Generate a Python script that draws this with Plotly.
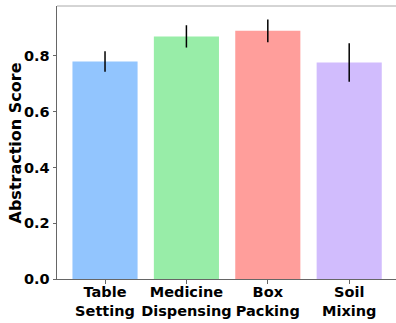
import plotly.graph_objects as go

categories = ["Table<br>Setting", "Medicine<br>Dispensing", "Box<br>Packing", "Soil<br>Mixing"]
scores = [0.780, 0.870, 0.890, 0.776]
errors = [0.037, 0.040, 0.041, 0.069]
colors = ["#92c5fe", "#98eda8", "#ff9e9b", "#d1bcfd"]
y_ticks = [0.0, 0.2, 0.4, 0.6, 0.8]
y_title = "Abstraction Score"

FS = 14.5

fig = go.Figure(go.Bar(
    x=list(range(len(categories))),
    y=scores,
    width=0.8,
    marker=dict(color=colors, line=dict(width=0)),
    error_y=dict(type="data", array=errors, visible=True, color="black", thickness=1.5, width=0),
))

fig.update_layout(
    width=396, height=323,
    margin=dict(l=57, r=0, t=6, b=44),
    plot_bgcolor="white", paper_bgcolor="white",
    showlegend=False,
    font=dict(family="DejaVu Sans", size=FS, color="black"),
    xaxis=dict(
        range=[-0.59, 3.575],
        automargin=False,
        tickmode="array", tickvals=list(range(len(categories))), ticktext=[f"<b>{c}</b>" for c in categories],
        showline=True, linecolor="#666666", linewidth=1,
        ticks="outside", ticklen=3.5, tickcolor="#666666",
        ticklabelstandoff=-4,
        showgrid=False, zeroline=False,
        tickfont=dict(family="DejaVu Sans", size=FS, color="black"),
    ),
    yaxis=dict(
        range=[0, 0.979],
        automargin=False,
        tickmode="array", tickvals=y_ticks, ticktext=[f"<b>{v:.1f}</b>" for v in y_ticks],
        showline=True, linecolor="#666666", linewidth=1,
        ticks="outside", ticklen=3.5, tickcolor="#666666",
        showgrid=False, zeroline=False,
        tickfont=dict(family="DejaVu Sans", size=FS, color="black"),
    ),
    annotations=[dict(text=f"<b>{y_title}</b>", xref="paper", yref="paper", x=-0.121, y=0.5,
                      xanchor="center", yanchor="middle", textangle=-90, showarrow=False,
                      font=dict(family="DejaVu Sans", size=16, color="black"))],
    shapes=[dict(type="line", xref="paper", yref="paper", x0=0, x1=1, y0=1, y1=1,
                 line=dict(color="#aaaaaa", width=1))],
)

fig.write_html("out.html", config={"displayModeBar": False},
               post_script="document.body.style.margin='0';document.body.style.overflow='hidden';")
